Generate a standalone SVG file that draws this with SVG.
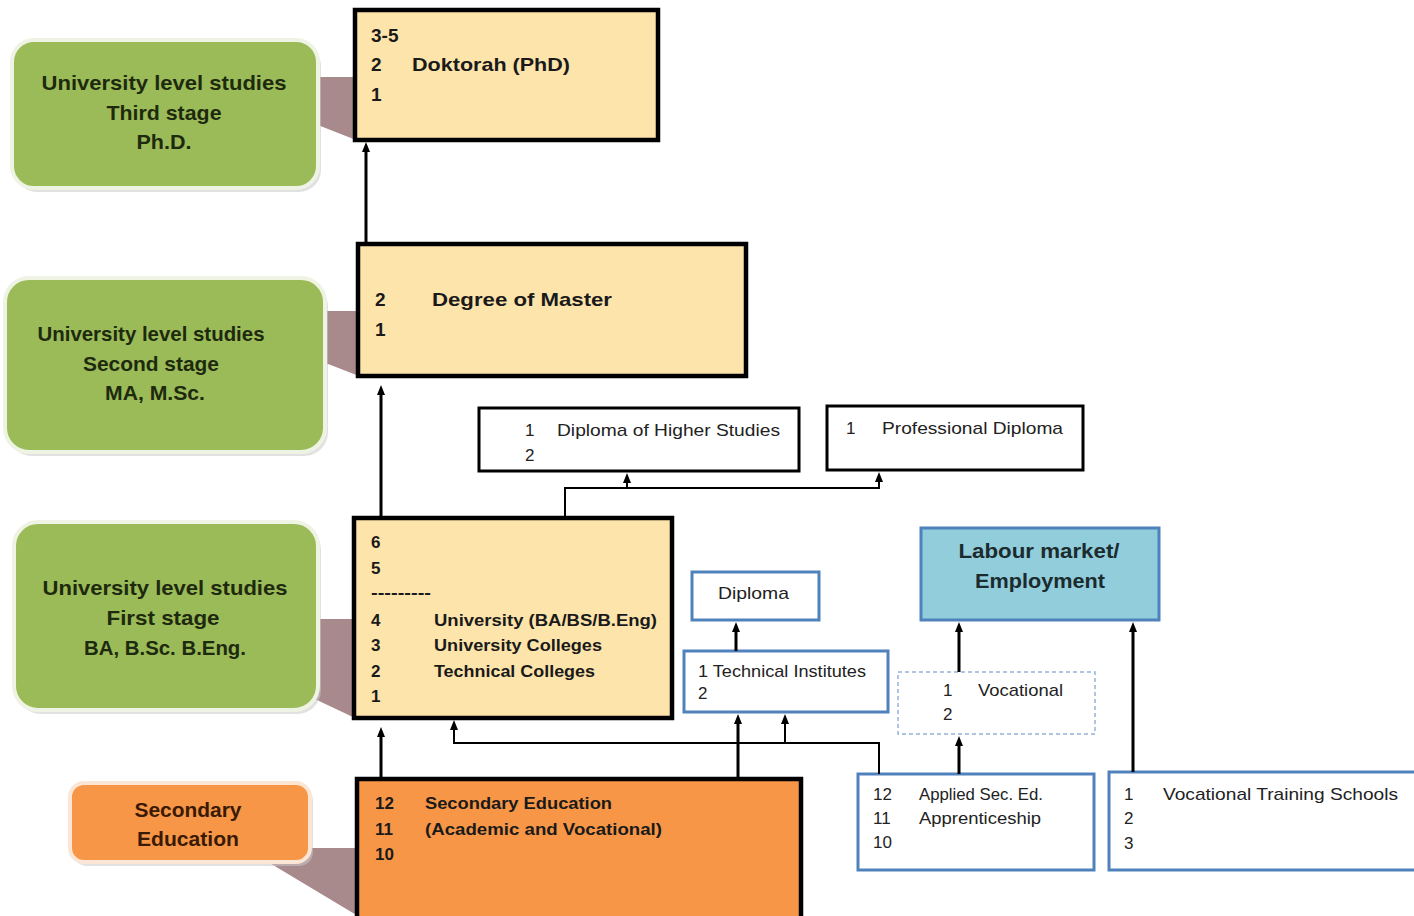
<svg xmlns="http://www.w3.org/2000/svg" width="1414" height="916" viewBox="0 0 1414 916">
<defs>
<style>
.bg{fill:#ffffff}
.ptr{fill:#A98A8C}
.shadow{fill:#c9c9c9;opacity:0.55}
.green{fill:#9BBB59;stroke:#EEF3E4;stroke-width:4}
.ocall{fill:#F79646;stroke:#FBE6D5;stroke-width:4}
.tan{fill:#FDE4AA;stroke:#000;stroke-width:4.5}
.sec{fill:#F79646;stroke:#000;stroke-width:4.5}
.wbox{fill:#fff;stroke:#000;stroke-width:3}
.bbox{fill:#fff;stroke:#4F81BD;stroke-width:3}
.labour{fill:#92CDDC;stroke:#4F81BD;stroke-width:3}
.dash{fill:#fff;stroke:#95B3D7;stroke-width:1.5;stroke-dasharray:4 3}
.gt{font-family:"Liberation Sans",Arial,sans-serif;font-weight:bold;font-size:21px;fill:#1E2A0E;text-anchor:middle}
.ot{font-family:"Liberation Sans",Arial,sans-serif;font-weight:bold;font-size:21px;fill:#3A1A05;text-anchor:middle}
.bt{font-family:"Liberation Sans",Arial,sans-serif;font-weight:bold;font-size:19px;fill:#1a1a1a}
.st{font-family:"Liberation Sans",Arial,sans-serif;font-weight:bold;font-size:17px;fill:#1a1a1a}
.rt{font-family:"Liberation Sans",Arial,sans-serif;font-size:17px;fill:#222}
.lt{font-family:"Liberation Sans",Arial,sans-serif;font-weight:bold;font-size:20px;fill:#1B2B2E;text-anchor:middle}
.conn{fill:none;stroke:#000;stroke-width:3}
.thin{fill:none;stroke:#000;stroke-width:2}
</style>
<marker id="ah" markerUnits="userSpaceOnUse" markerWidth="12" markerHeight="10" refX="2" refY="4" orient="auto">
<path d="M0,0 L10,4 L0,8 z" fill="#000"/>
</marker>
</defs>
<rect class="bg" x="0" y="0" width="1414" height="916"/>

<g id="pointers">
<polygon class="ptr" points="300,77 356,77 356,140 300,118"/>
<polygon class="ptr" points="305,311 359,311 359,376 305,355"/>
<polygon class="ptr" points="300,619 355,619 355,718 300,692"/>
<polygon class="ptr" points="280,848 358,848 358,916 268,862"/>
</g>

<g id="callout-phd">
<rect class="shadow" x="15" y="44" width="306" height="148" rx="22"/>
<rect class="green" x="12" y="40" width="306" height="148" rx="22"/>
<text class="gt" x="164" y="90" textLength="245" lengthAdjust="spacingAndGlyphs">University level studies</text>
<text class="gt" x="164" y="120" textLength="115" lengthAdjust="spacingAndGlyphs">Third stage</text>
<text class="gt" x="164" y="149" textLength="55" lengthAdjust="spacingAndGlyphs">Ph.D.</text>
</g>

<g id="callout-master">
<rect class="shadow" x="8" y="282" width="320" height="174" rx="24"/>
<rect class="green" x="5" y="278" width="320" height="174" rx="24"/>
<text class="gt" x="151" y="341" textLength="227" lengthAdjust="spacingAndGlyphs">University level studies</text>
<text class="gt" x="151" y="371" textLength="136" lengthAdjust="spacingAndGlyphs">Second stage</text>
<text class="gt" x="155" y="400" textLength="100" lengthAdjust="spacingAndGlyphs">MA, M.Sc.</text>
</g>

<g id="callout-bachelor">
<rect class="shadow" x="17" y="526" width="304" height="188" rx="24"/>
<rect class="green" x="14" y="522" width="304" height="188" rx="24"/>
<text class="gt" x="165" y="595" textLength="245" lengthAdjust="spacingAndGlyphs">University level studies</text>
<text class="gt" x="163" y="625" textLength="113" lengthAdjust="spacingAndGlyphs">First stage</text>
<text class="gt" x="165" y="655" textLength="162" lengthAdjust="spacingAndGlyphs">BA, B.Sc. B.Eng.</text>
</g>

<g id="callout-secondary">
<rect class="shadow" x="73" y="787" width="240" height="79" rx="14"/>
<rect class="ocall" x="70" y="783" width="240" height="79" rx="14"/>
<text class="ot" x="188" y="817" textLength="107" lengthAdjust="spacingAndGlyphs">Secondary</text>
<text class="ot" x="188" y="846" textLength="102" lengthAdjust="spacingAndGlyphs">Education</text>
</g>

<g id="phd">
<rect class="tan" x="355" y="10" width="303" height="130"/>
<text class="bt" x="371" y="42">3-5</text>
<text class="bt" x="371" y="71">2</text>
<text class="bt" x="412" y="71" textLength="158" lengthAdjust="spacingAndGlyphs">Doktorah (PhD)</text>
<text class="bt" x="371" y="101">1</text>
</g>

<g id="master">
<rect class="tan" x="358" y="244" width="388" height="132"/>
<text class="bt" x="375" y="306">2</text>
<text class="bt" x="432" y="306" textLength="180" lengthAdjust="spacingAndGlyphs">Degree of Master</text>
<text class="bt" x="375" y="336">1</text>
</g>

<g id="bachelor">
<rect class="tan" x="354" y="518" width="318" height="200"/>
<text class="st" x="371" y="548">6</text>
<text class="st" x="371" y="574">5</text>
<text class="st" x="371" y="598" textLength="60" lengthAdjust="spacingAndGlyphs">---------</text>
<text class="st" x="371" y="626">4</text>
<text class="st" x="434" y="626" textLength="223" lengthAdjust="spacingAndGlyphs">University (BA/BS/B.Eng)</text>
<text class="st" x="371" y="651">3</text>
<text class="st" x="434" y="651" textLength="168" lengthAdjust="spacingAndGlyphs">University Colleges</text>
<text class="st" x="371" y="677">2</text>
<text class="st" x="434" y="677" textLength="161" lengthAdjust="spacingAndGlyphs">Technical Colleges</text>
<text class="st" x="371" y="702">1</text>
</g>

<g id="secondary">
<rect class="sec" x="357" y="779" width="444" height="150"/>
<text class="st" x="375" y="809">12</text>
<text class="st" x="425" y="809" textLength="187" lengthAdjust="spacingAndGlyphs">Secondary Education</text>
<text class="st" x="375" y="835">11</text>
<text class="st" x="425" y="835" textLength="237" lengthAdjust="spacingAndGlyphs">(Academic and Vocational)</text>
<text class="st" x="375" y="860">10</text>
</g>

<g id="higher-studies">
<rect class="wbox" x="479" y="408" width="320" height="63"/>
<text class="rt" x="525" y="436">1</text>
<text class="rt" x="557" y="436" textLength="223" lengthAdjust="spacingAndGlyphs">Diploma of Higher Studies</text>
<text class="rt" x="525" y="461">2</text>
</g>

<g id="professional">
<rect class="wbox" x="827" y="406" width="256" height="64"/>
<text class="rt" x="846" y="434">1</text>
<text class="rt" x="882" y="434" textLength="181" lengthAdjust="spacingAndGlyphs">Professional Diploma</text>
</g>

<g id="diploma">
<rect class="bbox" x="692" y="572" width="127" height="48"/>
<text class="rt" x="718" y="599" textLength="71" lengthAdjust="spacingAndGlyphs">Diploma</text>
</g>

<g id="technical">
<rect class="bbox" x="684" y="651" width="204" height="61"/>
<text class="rt" x="698" y="677" textLength="168" lengthAdjust="spacingAndGlyphs">1 Technical Institutes</text>
<text class="rt" x="698" y="699">2</text>
</g>

<g id="labour">
<rect class="labour" x="921" y="528" width="238" height="92"/>
<text class="lt" x="1039" y="558" textLength="161" lengthAdjust="spacingAndGlyphs">Labour market/</text>
<text class="lt" x="1040" y="588" textLength="130" lengthAdjust="spacingAndGlyphs">Employment</text>
</g>

<g id="vocational">
<rect class="dash" x="898" y="672" width="197" height="62"/>
<text class="rt" x="943" y="696">1</text>
<text class="rt" x="978" y="696" textLength="85" lengthAdjust="spacingAndGlyphs">Vocational</text>
<text class="rt" x="943" y="720">2</text>
</g>

<g id="applied">
<rect class="bbox" x="858" y="774" width="236" height="96"/>
<text class="rt" x="873" y="800">12</text>
<text class="rt" x="919" y="800" textLength="124" lengthAdjust="spacingAndGlyphs">Applied Sec. Ed.</text>
<text class="rt" x="873" y="824">11</text>
<text class="rt" x="919" y="824" textLength="122" lengthAdjust="spacingAndGlyphs">Apprenticeship</text>
<text class="rt" x="873" y="848">10</text>
</g>

<g id="vts">
<rect class="bbox" x="1109" y="772" width="320" height="98"/>
<text class="rt" x="1124" y="800">1</text>
<text class="rt" x="1163" y="800" textLength="235" lengthAdjust="spacingAndGlyphs">Vocational Training Schools</text>
<text class="rt" x="1124" y="824">2</text>
<text class="rt" x="1124" y="849">3</text>
</g>

<g id="connectors">
<path class="conn" d="M366,244 V150" marker-end="url(#ah)"/>
<path class="conn" d="M381,518 V393" marker-end="url(#ah)"/>
<path class="thin" d="M565,518 V488 H879 V480" marker-end="url(#ah)"/>
<path class="thin" d="M627,488 V481" marker-end="url(#ah)"/>
<path class="conn" d="M381,779 V735" marker-end="url(#ah)"/>
<path class="thin" d="M879,774 V743 H454 V728" marker-end="url(#ah)"/>
<path class="thin" d="M785,743 V722" marker-end="url(#ah)"/>
<path class="conn" d="M738,779 V722" marker-end="url(#ah)"/>
<path class="conn" d="M736,651 V630" marker-end="url(#ah)"/>
<path class="conn" d="M959,672 V630" marker-end="url(#ah)"/>
<path class="conn" d="M959,774 V744" marker-end="url(#ah)"/>
<path class="conn" d="M1133,772 V630" marker-end="url(#ah)"/>
</g>
</svg>
